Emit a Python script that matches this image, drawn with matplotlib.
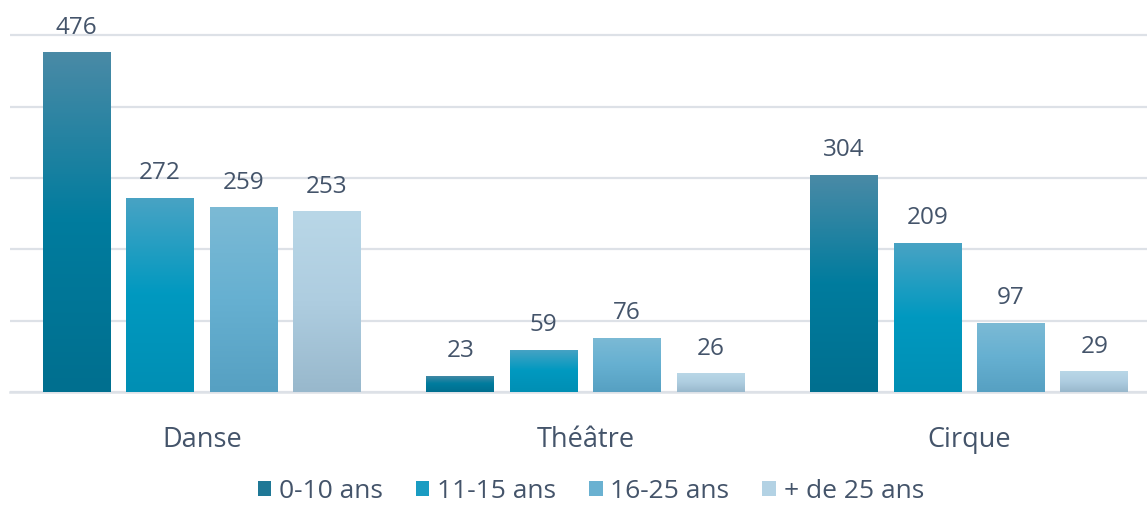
import matplotlib
matplotlib.use("Agg")
import matplotlib.pyplot as plt
import numpy as np
from matplotlib.colors import LinearSegmentedColormap
from matplotlib.patches import Patch

plt.rcParams['font.family'] = ['Open Sans', 'DejaVu Sans']

# data
disciplines = ["Danse", "Théâtre", "Cirque"]
age_groups = ["0-10 ans", "11-15 ans", "16-25 ans", "+ de 25 ans"]
age_0_10 = [476, 23, 304]
age_11_15 = [272, 59, 209]
age_16_25 = [259, 76, 97]
age_25_plus = [253, 26, 29]
series = [age_0_10, age_11_15, age_16_25, age_25_plus]

# gradient stops per series: top, middle, bottom
gradients = [
    ("#4a8aa6", "#007c9e", "#006f8f"),
    ("#49a3c4", "#0099c0", "#008fb4"),
    ("#7cbad5", "#66b0d1", "#56a0c2"),
    ("#b9d7e7", "#aecde0", "#98b8cc"),
]
legend_colors = ["#1f7896", "#1a9cc2", "#6ab1d1", "#b3d2e4"]
text_color = "#44546a"
grid_color = "#dde1e7"

fig = plt.figure(figsize=(11.47, 5.06), dpi=100)
ax = fig.add_axes([10 / 1147, (506 - 393) / 506, 1151 / 1147, 371 / 506])

x = np.arange(len(disciplines))
width = 0.177
step = 0.2174

for i, vals in enumerate(series):
    pos = x + (i - 1.5) * step
    bars = ax.bar(pos, vals, width, color=gradients[i][1], zorder=2)
    cmap = LinearSegmentedColormap.from_list("g%d" % i, [gradients[i][2], gradients[i][1], gradients[i][0]])
    grad = np.linspace(0, 1, 256).reshape(-1, 1)
    for b, v in zip(bars, vals):
        bx, by = b.get_x(), b.get_y()
        im = ax.imshow(grad, cmap=cmap, origin="lower", aspect="auto",
                       extent=[bx, bx + b.get_width(), by, by + b.get_height()], zorder=3)
        im.set_clip_path(b)
        ax.annotate(str(v), (b.get_x() + b.get_width() / 2, v), xytext=(0, 18.5),
                    textcoords="offset points", ha="center", va="center",
                    fontsize=17.5, color=text_color, zorder=4)

ax.set_xlim(-0.5, 2.5)
ax.set_ylim(0, 520)
ax.set_yticks([0, 100, 200, 300, 400, 500])
ax.yaxis.grid(True, color=grid_color, linewidth=1.6, zorder=0)
ax.set_axisbelow(True)
ax.set_yticklabels([])
ax.tick_params(axis="y", length=0)
ax.set_xticks(x)
ax.set_xticklabels(disciplines, fontsize=19.5, color=text_color)
ax.tick_params(axis="x", length=0, pad=24)
for s in ["top", "right", "left"]:
    ax.spines[s].set_visible(False)
ax.spines["bottom"].set_color(grid_color)
ax.spines["bottom"].set_linewidth(1.8)

handles = [Patch(facecolor=c, edgecolor="none") for c in legend_colors]
fig.legend(handles, age_groups, loc="center", bbox_to_anchor=(591 / 1147, 1 - 492 / 506),
           ncol=4, frameon=False, fontsize=19, labelcolor=text_color,
           handlelength=0.5, handleheight=0.5, handletextpad=0.3, columnspacing=1.25,
           borderpad=0.1)

fig.savefig("out.png", dpi=100)
